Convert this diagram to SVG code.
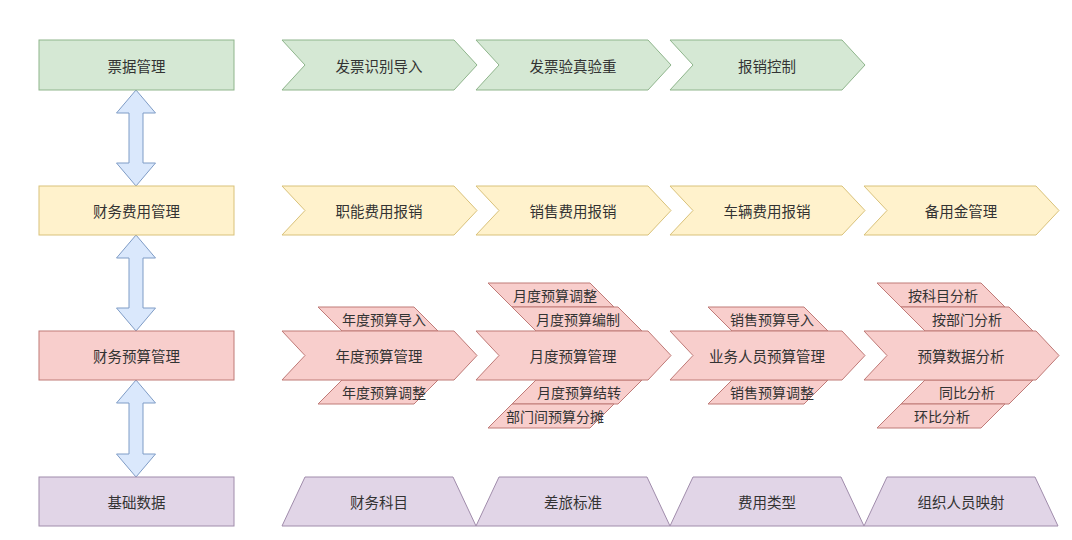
<svg xmlns="http://www.w3.org/2000/svg" width="1072" height="540" viewBox="0 0 1072 540">
<style>
text{font-family:"Noto Sans CJK SC","Noto Sans",sans-serif;font-size:14.5px;fill:#333;text-anchor:middle;dominant-baseline:central}
.s{font-size:14px}
.g{fill:#d5e8d4;stroke:#8fb58c;stroke-width:1}
.y{fill:#fff2cc;stroke:#d9c27a;stroke-width:1}
.r{fill:#f8cecc;stroke:#bf7a77;stroke-width:1}
.p{fill:#e1d5e7;stroke:#a08cab;stroke-width:1}
.b{fill:#dae8fc;stroke:#7f9cc6;stroke-width:1}
</style>
<rect width="1072" height="540" fill="#fff"/>
<g id="connectors">
<polygon class="b" points="136,90 155.5,113 143,113 143,163 155.5,163 136,186 116.5,163 129,163 129,113 116.5,113"/>
<polygon class="b" points="136,235 155.5,258 143,258 143,308 155.5,308 136,331 116.5,308 129,308 129,258 116.5,258"/>
<polygon class="b" points="136,380 155.5,403 143,403 143,454 155.5,454 136,477 116.5,454 129,454 129,403 116.5,403"/>
</g>
<g id="row-invoice">
<g id="n-invoice"><rect class="g" x="39" y="40" width="195" height="50"/><text x="136.5" y="65">票据管理</text></g>
<g id="n-inv1"><polygon class="g" points="282,40 454,40 477,65 454,90 282,90 305,65"/><text x="379" y="65">发票识别导入</text></g>
<g id="n-inv2"><polygon class="g" points="476,40 648,40 671,65 648,90 476,90 499,65"/><text x="573" y="65">发票验真验重</text></g>
<g id="n-inv3"><polygon class="g" points="670,40 842,40 865,65 842,90 670,90 693,65"/><text x="767" y="65">报销控制</text></g>
</g>
<g id="row-expense">
<g id="n-expense"><rect class="y" x="39" y="186" width="195" height="49"/><text x="136.5" y="210.5">财务费用管理</text></g>
<g id="n-exp1"><polygon class="y" points="282,186 454,186 477,210.5 454,235 282,235 305,210.5"/><text x="379" y="210.5">职能费用报销</text></g>
<g id="n-exp2"><polygon class="y" points="476,186 648,186 671,210.5 648,235 476,235 499,210.5"/><text x="573" y="210.5">销售费用报销</text></g>
<g id="n-exp3"><polygon class="y" points="670,186 842,186 865,210.5 842,235 670,235 693,210.5"/><text x="767" y="210.5">车辆费用报销</text></g>
<g id="n-exp4"><polygon class="y" points="864,186 1036,186 1059,210.5 1036,235 864,235 887,210.5"/><text x="961" y="210.5">备用金管理</text></g>
</g>
<g id="row-budget">
<g id="n-budget"><rect class="r" x="39" y="331" width="195" height="49"/><text x="136.5" y="355.5">财务预算管理</text></g>
<g id="n-year">
<polygon class="r" points="318,307 414,307 438,331 342,331"/><text class="s" x="384" y="319">年度预算导入</text>
<polygon class="r" points="342,380 438,380 414,404 318,404"/><text class="s" x="384" y="392">年度预算调整</text>
<polygon class="r" points="282,331 454,331 477,355.5 454,380 282,380 305,355.5"/><text x="379" y="355.5">年度预算管理</text>
</g>
<g id="n-month">
<polygon class="r" points="488,283 590,283 614,307 512,307"/><text class="s" x="555" y="295">月度预算调整</text>
<polygon class="r" points="512,307 618,307 642,331 536,331"/><text class="s" x="578" y="319">月度预算编制</text>
<polygon class="r" points="536,380 642,380 618,404 512,404"/><text class="s" x="579" y="392">月度预算结转</text>
<polygon class="r" points="512,404 614,404 590,428 488,428"/><text class="s" x="555" y="416">部门间预算分摊</text>
<polygon class="r" points="476,331 648,331 671,355.5 648,380 476,380 499,355.5"/><text x="573" y="355.5">月度预算管理</text>
</g>
<g id="n-sales">
<polygon class="r" points="708,307 804,307 828,331 732,331"/><text class="s" x="772" y="319">销售预算导入</text>
<polygon class="r" points="732,380 828,380 804,404 708,404"/><text class="s" x="772" y="392">销售预算调整</text>
<polygon class="r" points="670,331 842,331 865,355.5 842,380 670,380 693,355.5"/><text x="767" y="355.5">业务人员预算管理</text>
</g>
<g id="n-analysis">
<polygon class="r" points="877,283 981,283 1005,307 901,307"/><text class="s" x="943" y="295">按科目分析</text>
<polygon class="r" points="901,307 1009,307 1033,331 925,331"/><text class="s" x="967" y="319">按部门分析</text>
<polygon class="r" points="925,380 1033,380 1009,404 901,404"/><text class="s" x="967" y="392">同比分析</text>
<polygon class="r" points="901,404 1005,404 981,428 877,428"/><text class="s" x="942" y="416">环比分析</text>
<polygon class="r" points="864,331 1036,331 1059,355.5 1036,380 864,380 887,355.5"/><text x="961" y="355.5">预算数据分析</text>
</g>
</g>
<g id="row-base">
<g id="n-base"><rect class="p" x="39" y="477" width="195" height="49"/><text x="136.5" y="501.5">基础数据</text></g>
<g id="n-base1"><polygon class="p" points="305,477 453,477 476,526 282,526"/><text x="379" y="501.5">财务科目</text></g>
<g id="n-base2"><polygon class="p" points="499,477 647,477 670,526 476,526"/><text x="573" y="501.5">差旅标准</text></g>
<g id="n-base3"><polygon class="p" points="693,477 841,477 864,526 670,526"/><text x="767" y="501.5">费用类型</text></g>
<g id="n-base4"><polygon class="p" points="887,477 1035,477 1058,526 864,526"/><text x="961" y="501.5">组织人员映射</text></g>
</g>
</svg>
